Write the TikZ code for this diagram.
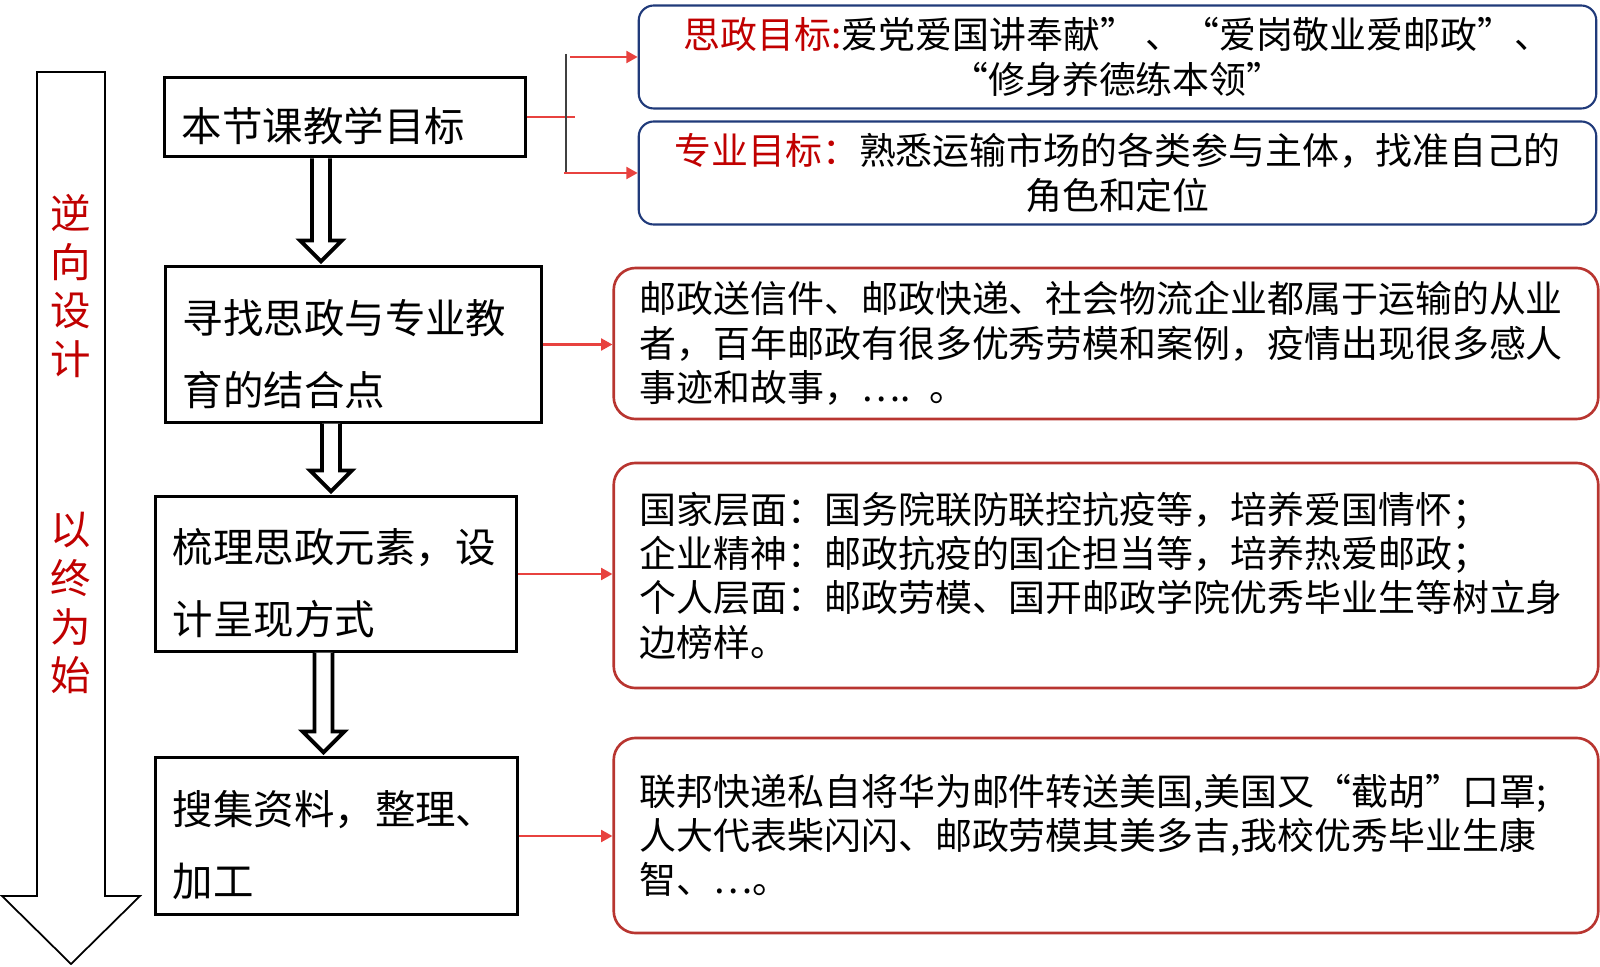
\documentclass[tikz,border=0pt]{standalone}
\usepackage{fontspec}
\usepackage{tikz}
\usetikzlibrary{arrows.meta,calc}
\newfontfamily\cjk{Noto Sans CJK SC}
\tikzset{every node/.append style={align=center}}
\definecolor{darkred}{HTML}{C00000}
\definecolor{linkred}{HTML}{E8423F}
\definecolor{boxred}{HTML}{B83530}
\definecolor{boxblue}{HTML}{203A7A}
\newcommand{\downarrowbox}[3]{%
  \draw[hollowarr] ($(#2.south -| #1)+(-9,0)$) -- ($(#3.north -| #1)+(-9,-25)$)
    -- ($(#3.north -| #1)+(-21,-25)$) -- ($(#3.north -| #1)+(0,-4)$)
    -- ($(#3.north -| #1)+(21,-25)$) -- ($(#3.north -| #1)+(9,-25)$)
    -- ($(#2.south -| #1)+(9,0)$);}

\begin{document}
\begin{tikzpicture}[x=0.01cm, y=-0.01cm,
  stepbox/.style={draw, line width=0.85pt, align=left, inner xsep=0.17cm, font=\cjk\fontsize{11.5pt}{20.5pt}\selectfont, execute at begin node={\rule{0pt}{15pt}}},
  goalbox/.style={draw=boxblue, line width=0.6pt, rounded corners=0.15cm, align=center, minimum width=9.57cm, font=\cjk\fontsize{10.5pt}{12.8pt}\selectfont},
  notebox/.style={draw=boxred, line width=0.75pt, rounded corners=0.22cm, align=left, inner xsep=0.26cm, text width=9.32cm, font=\cjk\fontsize{10.5pt}{12.6pt}\selectfont},
  sidetext/.style={text=darkred, align=center, font=\cjk\fontsize{11.5pt}{13.9pt}\selectfont},
  hollowarr/.style={draw, line width=1.1pt, fill=white},
  redarr/.style={draw=linkred, line width=0.6pt, -{Triangle[length=3.2pt,width=3.4pt]}},
  redline/.style={draw=linkred, line width=0.6pt},
  forkline/.style={draw=black!75, line width=0.4pt}]
  \useasboundingbox (0,0) rectangle (1600,967);
  % big arrow on the left
  \draw[line width=0.5pt] (37,72) -- (37,896) -- (2,896) -- (71,964) -- (140,896) -- (105,896) -- (105,72) -- cycle;
  \node[sidetext] (nxsj) at (71,286) {逆\\向\\设\\计};
  \node[sidetext] (yzws) at (71,603) {以\\终\\为\\始};
  % steps
  \node[stepbox, text width=3.26cm, minimum height=0.78cm] (b1) at (345,117) {本节课教学目标};
  \node[stepbox, text width=3.41cm, minimum height=1.55cm] (b2) at (353.5,344.5) {寻找思政与专业教\\育的结合点};
  \node[stepbox, text width=3.26cm, minimum height=1.54cm] (b3) at (336,574) {梳理思政元素，设\\计呈现方式};
  \node[stepbox, text width=3.27cm, minimum height=1.56cm] (b4) at (336.5,836) {搜集资料，整理、\\加工};
  % goals
  \node[goalbox, minimum height=1.01cm] (tb1) at (1117.5,57) {{\color{darkred}思政目标:}爱党爱国讲奉献” 、“爱岗敬业爱邮政”、\\“修身养德练本领”};
  \node[goalbox, minimum height=1.0cm] (tb2) at (1117.5,173) {{\color{darkred}专业目标：}熟悉运输市场的各类参与主体，找准自己的\\角色和定位};
  % notes
  \node[notebox, minimum height=1.51cm] (ra) at (1106,343.5) {邮政送信件、邮政快递、社会物流企业都属于运输的从业\\者，百年邮政有很多优秀劳模和案例，疫情出现很多感人\\事迹和故事，…. 。};
  \node[notebox, minimum height=2.25cm] (rb) at (1106,575.5) {国家层面：国务院联防联控抗疫等，培养爱国情怀；\\企业精神：邮政抗疫的国企担当等，培养热爱邮政；\\个人层面：邮政劳模、国开邮政学院优秀毕业生等树立身\\边榜样。};
  \node[notebox, minimum height=1.95cm] (rc) at (1106,835.5) {联邦快递私自将华为邮件转送美国,美国又“截胡”口罩;\\人大代表柴闪闪、邮政劳模其美多吉,我校优秀毕业生康\\智、…。};
  % hollow arrows between steps
  \coordinate (ax1) at (321,0);
  \coordinate (ax2) at (331,0);
  \coordinate (ax3) at (323.5,0);
  \downarrowbox{ax1}{b1}{b2}
  \downarrowbox{ax2}{b2}{b3}
  \downarrowbox{ax3}{b3}{b4}
  % red connectors
  \coordinate (fork) at (566,117);
  \coordinate (forkend) at (575,117);
  \draw[redline] (b1.east) -- (forkend);
  \draw[forkline] ($(fork |- tb1.west)+(0,-3)$) -- (fork |- tb2.west);
  \draw[redarr] ($(fork |- tb1.west)+(4,0)$) -- (tb1.west);
  \draw[redarr] ($(fork |- tb2.west)+(-2,0)$) -- (tb2.west);
  \draw[redarr] (b2.east) -- (b2.east -| ra.west);
  \draw[redarr] (b3.east) -- (b3.east -| rb.west);
  \draw[redarr] (b4.east) -- (b4.east -| rc.west);
\end{tikzpicture}
\end{document}
